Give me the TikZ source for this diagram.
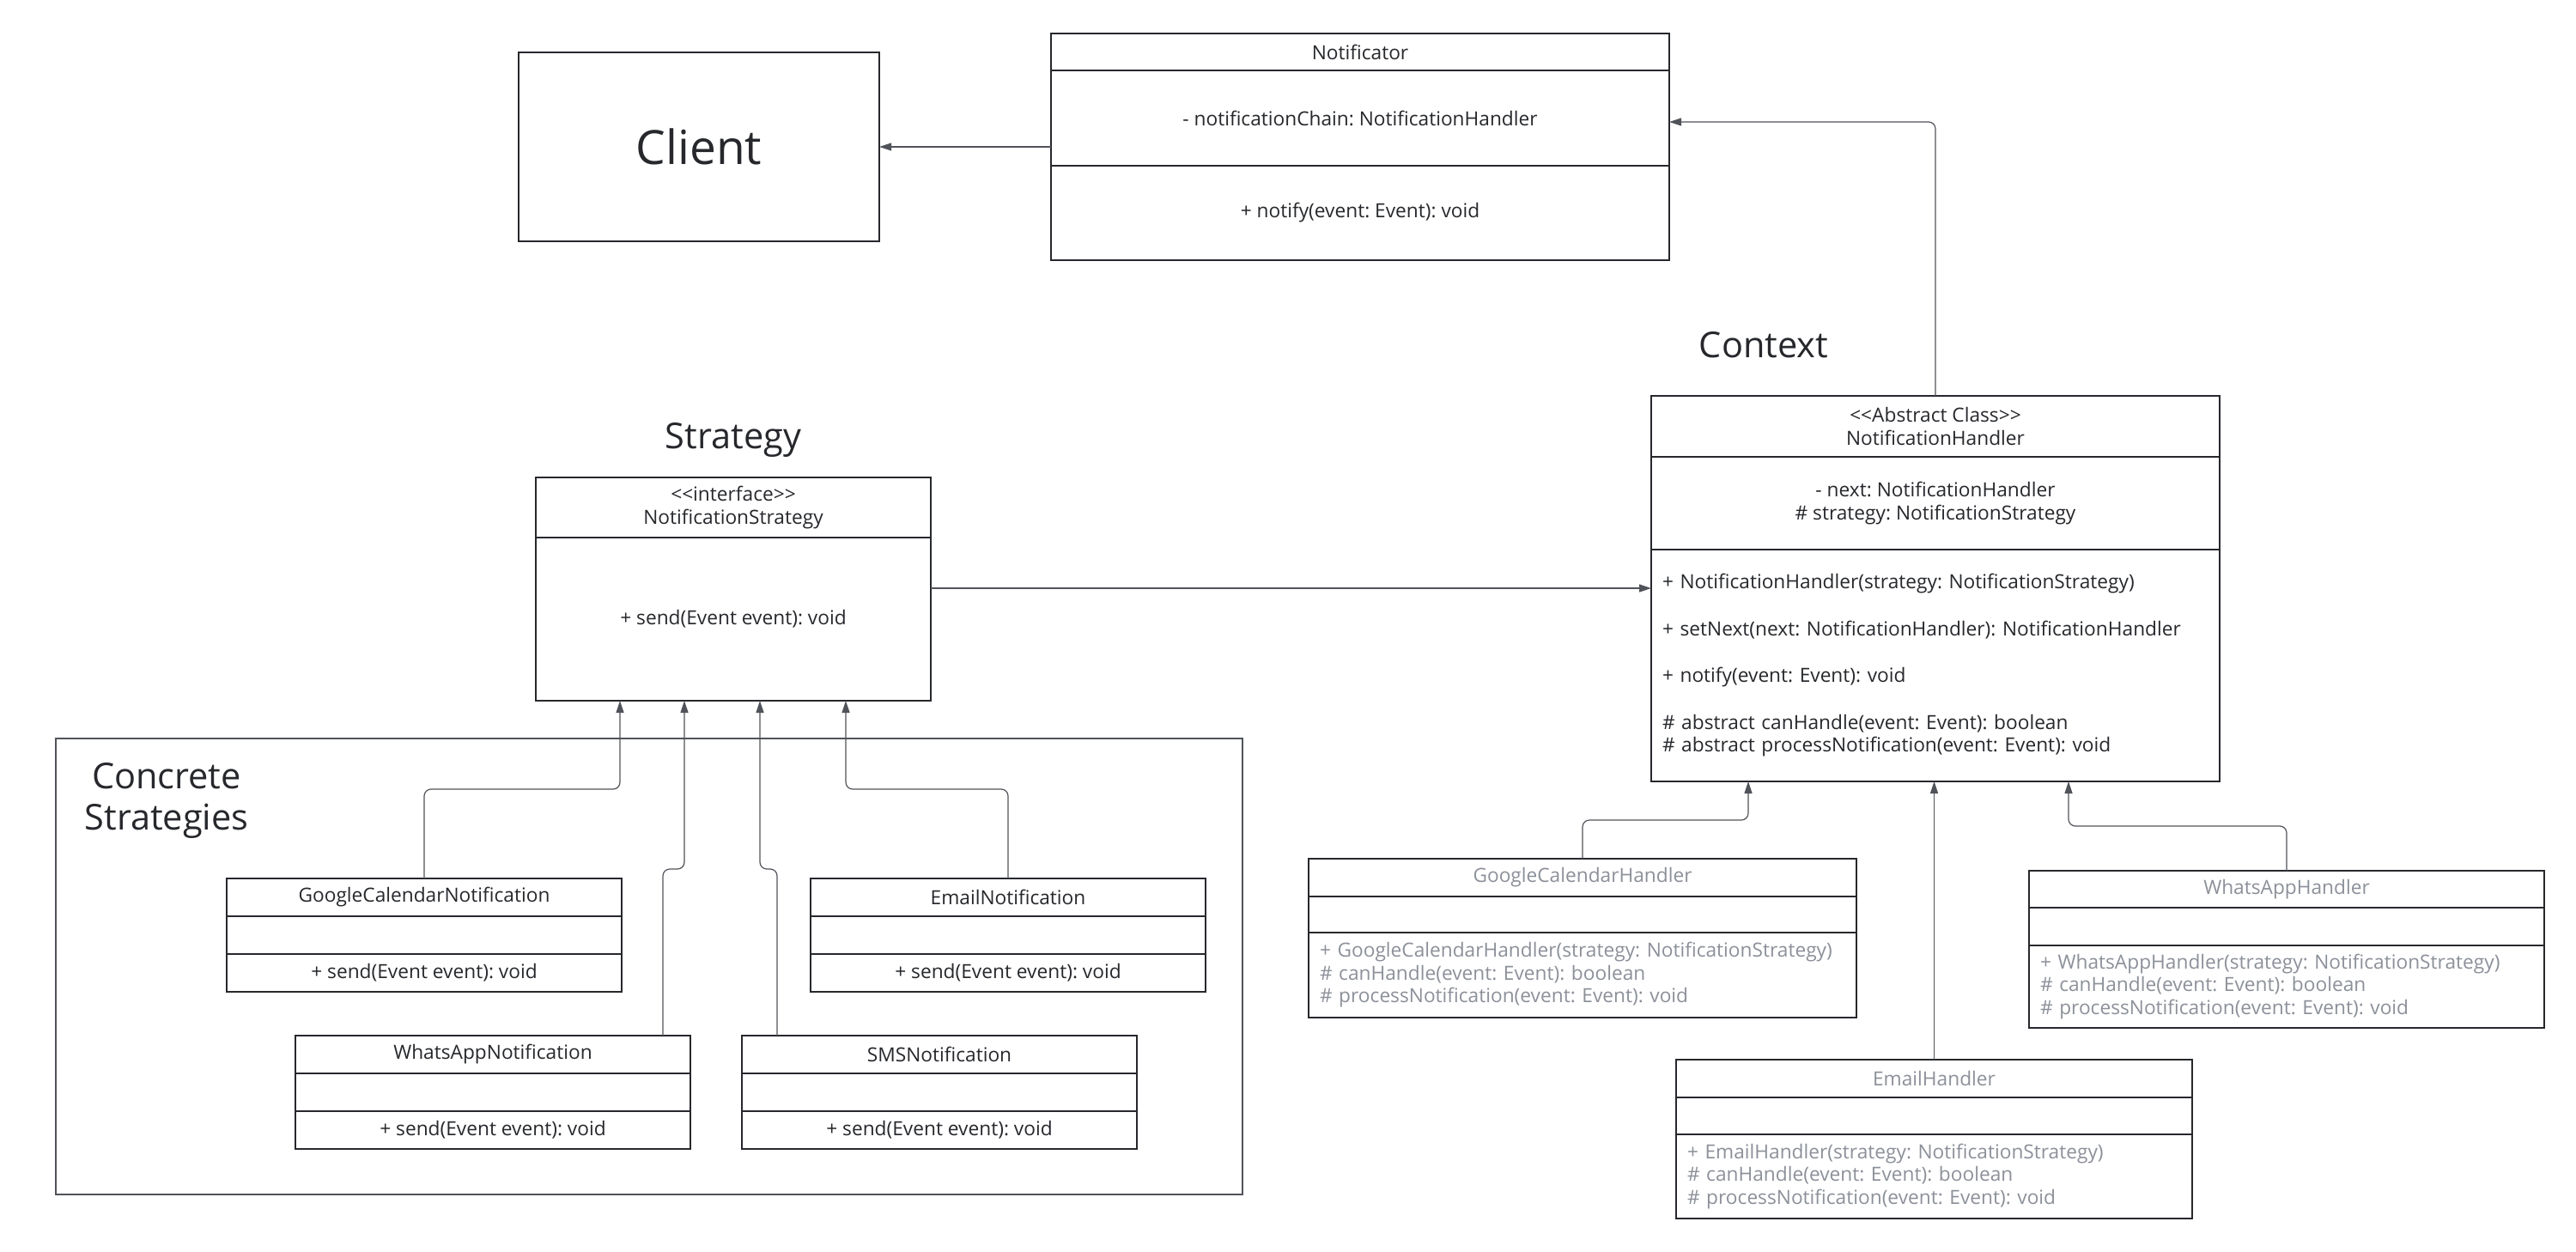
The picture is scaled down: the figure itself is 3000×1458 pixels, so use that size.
\documentclass[tikz,border=0pt]{standalone}
\usepackage{fontspec}
\setmainfont{Open Sans}
\usetikzlibrary{arrows.meta,positioning}
\definecolor{ink}{HTML}{26282C}
\definecolor{wire}{HTML}{505359}
\definecolor{faded}{HTML}{8C9099}
\newcommand\stereo[1]{<\kern0pt<#1>\kern0pt>}
\frenchspacing

\begin{document}
\begin{tikzpicture}[x=1pt, y=-1pt,
  comp/.style = {draw=ink, line width=2pt, inner sep=0pt, outer sep=0pt, text=ink,
    font=\fontsize{22.7}{26.5}\selectfont, align=center},
  ops/.style = {comp, align=left, inner xsep=13pt, text width=#1},
  faded/.style = {text=faded},
  heading/.style = {text=ink, font=\fontsize{41.5}{48}\selectfont, align=center},
  group/.style = {draw=wire, line width=1.5pt, inner sep=0pt},
  conn/.style = {draw=wire, line width=1.2pt, rounded corners=8pt,
    -{Triangle[length=14pt,width=9pt]}}]
	\path[use as bounding box, fill=white] (0,0) rectangle (3000,1458);
	% top row
	\node[comp, minimum width=420pt, minimum height=220pt, anchor=north west,
	  font=\fontsize{55}{60}\selectfont] (client) at (604,61) {Client};
	\node[comp, minimum width=720pt, minimum height=43pt, anchor=north west] (notif) at (1224,39) {Notificator};
	\node[comp, minimum width=720pt, minimum height=111pt, below=0pt of notif] (notifattr) {- notificationChain: NotificationHandler};
	\node[comp, minimum width=720pt, minimum height=110pt, below=0pt of notifattr] (notifops) {+ notify(event: Event): void};
	% strategy
	\node[heading] (stratlabel) at (854,512) {Strategy};
	\node[comp, minimum width=460pt, minimum height=70pt, anchor=north west] (strat) at (624,556) {\stereo{interface}\\NotificationStrategy};
	\node[comp, minimum width=460pt, minimum height=190pt, below=0pt of strat] (stratops) {+ send(Event event): void};
	% context
	\node[heading] (ctxlabel) at (2054,402) {Context};
	\node[comp, minimum width=662pt, minimum height=71pt, anchor=north west] (handler) at (1923,461) {\stereo{Abstract Class}\\NotificationHandler};
	\node[comp, minimum width=662pt, minimum height=108pt, below=0pt of handler] (handlerattr) {- next: NotificationHandler\\\# strategy: NotificationStrategy};
	\node[ops=636pt, minimum height=270pt, below=0pt of handlerattr] (handlerops) {+ NotificationHandler(strategy: NotificationStrategy)\\[28pt]
	  + setNext(next: NotificationHandler): NotificationHandler\\[28pt]
	  + notify(event: Event): void\\[28pt]
	  \# abstract canHandle(event: Event): boolean\\
	  \# abstract processNotification(event: Event): void};
	% concrete strategies
	\node[group, minimum width=1382pt, minimum height=531pt, anchor=north west] (concrete) at (64,859) {};
	\node[heading] (concretelabel) at (194,932) {Concrete\\Strategies};
	\node[comp, minimum width=460pt, minimum height=44pt, anchor=north west] (gcn) at (264,1023) {GoogleCalendarNotification};
	\node[comp, minimum width=460pt, minimum height=44pt, below=0pt of gcn] (gcnattr) {};
	\node[comp, minimum width=460pt, minimum height=44pt, below=0pt of gcnattr] (gcnops) {+ send(Event event): void};
	\node[comp, minimum width=460pt, minimum height=44pt, anchor=north west] (enot) at (944,1023) {EmailNotification};
	\node[comp, minimum width=460pt, minimum height=44pt, below=0pt of enot] (enotattr) {};
	\node[comp, minimum width=460pt, minimum height=44pt, below=0pt of enotattr] (enotops) {+ send(Event event): void};
	\node[comp, minimum width=460pt, minimum height=44pt, anchor=north west] (wan) at (344,1206) {WhatsAppNotification};
	\node[comp, minimum width=460pt, minimum height=44pt, below=0pt of wan] (wanattr) {};
	\node[comp, minimum width=460pt, minimum height=44pt, below=0pt of wanattr] (wanops) {+ send(Event event): void};
	\node[comp, minimum width=460pt, minimum height=44pt, anchor=north west] (sms) at (864,1206) {SMSNotification};
	\node[comp, minimum width=460pt, minimum height=44pt, below=0pt of sms] (smsattr) {};
	\node[comp, minimum width=460pt, minimum height=44pt, below=0pt of smsattr] (smsops) {+ send(Event event): void};
	% handlers
	\node[comp, faded, minimum width=638pt, minimum height=44pt, anchor=north west] (gch) at (1524,1000) {GoogleCalendarHandler};
	\node[comp, minimum width=638pt, minimum height=42pt, below=0pt of gch] (gchattr) {};
	\node[ops=612pt, faded, minimum height=99pt, below=0pt of gchattr] (gchops) {+ GoogleCalendarHandler(strategy: NotificationStrategy)\\
	  \# canHandle(event: Event): boolean\\
	  \# processNotification(event: Event): void};
	\node[comp, faded, minimum width=600pt, minimum height=43pt, anchor=north west] (wah) at (2363,1014) {WhatsAppHandler};
	\node[comp, minimum width=600pt, minimum height=44pt, below=0pt of wah] (wahattr) {};
	\node[ops=574pt, faded, minimum height=96pt, below=0pt of wahattr] (wahops) {+ WhatsAppHandler(strategy: NotificationStrategy)\\
	  \# canHandle(event: Event): boolean\\
	  \# processNotification(event: Event): void};
	\node[comp, faded, minimum width=601pt, minimum height=44pt, anchor=north west] (eh) at (1952,1234) {EmailHandler};
	\node[comp, minimum width=601pt, minimum height=43pt, below=0pt of eh] (ehattr) {};
	\node[ops=575pt, faded, minimum height=98pt, below=0pt of ehattr] (ehops) {+ EmailHandler(strategy: NotificationStrategy)\\
	  \# canHandle(event: Event): boolean\\
	  \# processNotification(event: Event): void};
	% connectors
	\coordinate (s1) at ([xshift=98pt]stratops.south west);
	\coordinate (s2) at ([xshift=173pt]stratops.south west);
	\coordinate (s3) at ([xshift=261pt]stratops.south west);
	\coordinate (s4) at ([xshift=361pt]stratops.south west);
	\coordinate (h1) at ([xshift=113pt]handlerops.south west);
	\coordinate (h3) at ([xshift=486pt]handlerops.south west);
	\draw[conn] (client.east -| notifattr.west) -- (client.east);
	\draw[conn] (handler.north) |- ([yshift=-4.5pt]notifattr.east);
	\draw[conn] ([yshift=36pt]stratops.east) -- ([yshift=36pt]stratops.east -| handlerops.west);
	\draw[conn] (gcn.north) -- ++(0,-104) -| (s1);
	\draw[conn] ([xshift=428pt]wan.north west) -- ++(0,-194) -| (s2);
	\draw[conn] ([xshift=41pt]sms.north west) -- ++(0,-194) -| (s3);
	\draw[conn] (enot.north) -- ++(0,-104) -| (s4);
	\draw[conn] (gch.north) -- ++(0,-45) -| (h1);
	\draw[conn] (eh.north) -- (eh.north |- handlerops.south);
	\draw[conn] (wah.north) -- ++(0,-52) -| (h3);
\end{tikzpicture}
\end{document}
